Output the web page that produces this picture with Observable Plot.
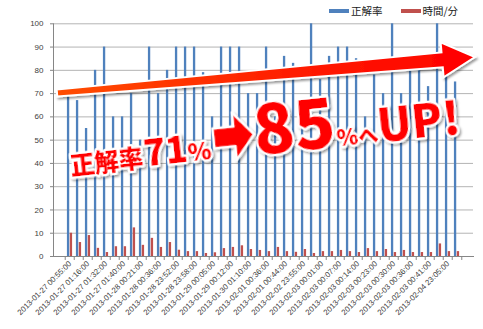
<!DOCTYPE html>
<html><head><meta charset="utf-8">
<script src="https://cdn.jsdelivr.net/npm/d3@7"></script>
<script src="https://cdn.jsdelivr.net/npm/@observablehq/plot@0.6"></script>
<style>
html,body{margin:0;padding:0;background:#fff;}
#wrap{position:relative;width:483px;height:329px;overflow:hidden;background:#fff;}
#legend{position:absolute;left:329px;top:4px;font-family:"Noto Sans CJK JP",sans-serif;font-size:10.5px;color:#1a1a1a;display:flex;align-items:center;white-space:nowrap;line-height:14px;}
.sw{display:inline-block;width:20px;height:3.5px;margin-right:2px;}
</style></head><body>
<div id="wrap"><div id="legend"></div></div>
<script>
// ---- data ----
const seriesNames = ["正解率", "時間/分"];
const seriesColors = ["#4f81bd", "#c0504d"];
const sessions = d3.range(44); // session index (one per practice session)
const tickLabels = [
  "2013-01-27 00:55:00","2013-01-27 01:16:00","2013-01-27 01:32:00","2013-01-27 01:40:00",
  "2013-01-28 00:21:00","2013-01-28 00:36:00","2013-01-28 23:52:00","2013-01-28 23:58:00",
  "2013-01-29 00:05:00","2013-01-29 00:12:00","2013-01-30 01:10:00","2013-02-01 00:36:00",
  "2013-02-01 00:44:00","2013-02-02 23:55:00","2013-02-03 00:01:00","2013-02-03 00:07:00",
  "2013-02-03 00:14:00","2013-02-03 00:23:00","2013-02-03 00:30:00","2013-02-03 00:36:00",
  "2013-02-03 00:41:00","2013-02-04 23:05:00"
];
const accuracy = [70,67,55,80,90,60,60,70,50,90, 70,80,90,90,90,79,60,90,90,90,
                  70,70,90,60,86,83,60,100,76,86, 90,90,85,60,78,70,100,70,80,80,
                  73,100,80,75];
const minutes = [10,6,9,3.5,1.7,4.2,4.2,12.3,4.8,7.8, 3.9,6,2.7,2.1,2.1,1.3,1.6,3.4,3.9,4.6,
                 3,2.6,2.1,3.9,2.1,1.8,3,1.3,2.1,2.1, 2.6,2.1,1.7,3.4,2.1,3,1.7,2.6,1.7,1.7,
                 1.7,5.4,2.1,2.1];
const yTicks = [0,10,20,30,40,50,60,70,80,90,100];
// annotation (trend arrow: 71% -> 85%)
const trendFrom = 70, trendTo = 85.5;

// ---- layout ----
const W = 483, H = 329, mL = 53, mR = 10, mT = 23.3, mB = 73;
const n = sessions.length;
const bw = (W - mL - mR) / n;
const rows = sessions.map(i => ({i, acc: accuracy[i], min: minutes[i]}));
const labelIdx = sessions.filter(i => i % 2 === 0);

const plot = Plot.plot({
  width: W, height: H,
  marginLeft: mL, marginRight: mR, marginTop: mT, marginBottom: mB,
  style: {fontFamily: "'Liberation Sans', Arial, sans-serif", fontSize: "8px", background: "white", color: "#404040", overflow: "visible"},
  x: {type: "band", domain: sessions, paddingInner: 0, paddingOuter: 0},
  y: {domain: [0, 100]},
  marks: [
    Plot.gridY({ticks: yTicks.slice(1), stroke: "#b4b4b4", strokeOpacity: 1}),
    Plot.axisY({ticks: yTicks, tickSize: 3, tickPadding: 7, stroke: "#868686", fill: "#404040", fontSize: 8, label: null}),
    Plot.barY(rows, {x: "i", y: "acc", fill: seriesColors[0], insetLeft: bw*0.2, insetRight: bw*0.5}),
    Plot.barY(rows, {x: "i", y: "min", fill: seriesColors[1], insetLeft: bw*0.5, insetRight: bw*0.2}),
    Plot.frame({anchor: "left", stroke: "#868686"}),
    Plot.frame({anchor: "bottom", stroke: "#868686"}),
    Plot.ruleX(sessions, {x: d => d, y1: 0, y2: -1.7, dx: -bw/2, stroke: "#868686"}),
    Plot.ruleX([sessions[n-1]], {x: d => d, y1: 0, y2: -1.7, dx: bw/2, stroke: "#868686"}),
    Plot.axisX({ticks: labelIdx, tickFormat: i => tickLabels[i/2], tickRotate: -45, tickSize: 0, tickPadding: 6, fontSize: 7.8, fill: "#404040", label: null})
  ]
});
document.getElementById("wrap").appendChild(plot);

// legend
const lg = document.getElementById("legend");
seriesNames.forEach((s, k) => {
  const sw = document.createElement("span"); sw.className = "sw"; sw.style.background = seriesColors[k];
  const t = document.createElement("span"); t.textContent = s; t.style.marginRight = k === 0 ? "18px" : "0";
  lg.appendChild(sw); lg.appendChild(t);
});

// ---- overlay annotation ----
const px = i => mL + bw * i;
const py = v => mT + (1 - v / 100) * (H - mT - mB);
const svg = d3.select(plot);
const defs = svg.append("defs");
const x0 = px(0) + 4, y0 = py(trendFrom);
const xt = px(n) + 2, yt = py(trendTo);
const gr = defs.append("linearGradient").attr("id", "ag").attr("gradientUnits", "userSpaceOnUse")
  .attr("x1", x0).attr("x2", xt).attr("y1", 0).attr("y2", 0);
gr.append("stop").attr("offset", 0).attr("stop-color", "#ff4d00");
gr.append("stop").attr("offset", 0.6).attr("stop-color", "#ff1a00");
gr.append("stop").attr("offset", 1).attr("stop-color", "#ff0000");
const f = defs.append("filter").attr("id", "sh").attr("x", "-20%").attr("y", "-20%").attr("width", "140%").attr("height", "140%");
f.append("feDropShadow").attr("dx", 1.5).attr("dy", 2).attr("stdDeviation", 1.3).attr("flood-color", "#000").attr("flood-opacity", 0.4);

const dx = xt - x0, dy = yt - y0, L = Math.hypot(dx, dy);
const ux = dx / L, uy = dy / L, nx = -uy, ny = ux;
const headLen = 33, hw = 17.5, t0 = 7, tb = 15;
const bxp = xt - ux * headLen, byp = yt - uy * headLen;
const P = (x, y) => [x, y];
const pts = [
  P(x0 + nx*t0/2, y0 + ny*t0/2), P(bxp + nx*tb/2, byp + ny*tb/2), P(bxp + nx*hw, byp + ny*hw),
  P(xt, yt), P(bxp - nx*hw, byp - ny*hw), P(bxp - nx*tb/2, byp - ny*tb/2), P(x0 - nx*t0/2, y0 - ny*t0/2)
];
svg.append("polygon").attr("points", pts.map(p => p.join(",")).join(" "))
  .attr("fill", "url(#ag)").attr("stroke", "#fff").attr("stroke-width", 2).attr("stroke-linejoin", "miter")
  .attr("filter", "url(#sh)");

const txtStyle = sel => sel.attr("font-family", "'Noto Sans CJK JP', sans-serif").attr("font-weight", 900)
  .attr("text-anchor", "start")
  .attr("fill", "#ff0000").attr("stroke", "#fff").attr("stroke-width", 4.5).attr("stroke-linejoin", "round")
  .attr("paint-order", "stroke").attr("filter", "url(#sh)");

const l1x = px(1.9), l1y = py(35);
const t1 = svg.append("text").attr("x", l1x).attr("y", l1y).attr("transform", `rotate(-6.5 ${l1x} ${l1y})`).call(txtStyle);
t1.append("tspan").attr("font-size", 24.5).text("正解率");
t1.append("tspan").attr("font-size", 36).attr("dx", 1).text("71");
t1.append("tspan").attr("font-size", 24).text("%");

// small block arrow
const ax = px(16.8), ay = py(50.5);
svg.append("polygon").attr("points", "0,-10 21,-10 21,-24 41,0 21,24 21,10 0,10")
  .attr("transform", `translate(${ax},${ay}) rotate(-6)`)
  .attr("fill", "#ff0000").attr("stroke", "#fff").attr("stroke-width", 2.5).attr("stroke-linejoin", "round")
  .attr("filter", "url(#sh)");

const l2x = px(21.3), l2y = py(43.3);
const t2 = svg.append("text").attr("x", l2x).attr("y", l2y).attr("transform", `rotate(-6 ${l2x} ${l2y})`).call(txtStyle);
t2.append("tspan").attr("font-size", 67).text("85");
t2.append("tspan").attr("font-size", 22).text("%");
t2.append("tspan").attr("font-size", 20).text("へ");
t2.append("tspan").attr("font-size", 45).text("UP!");
</script>
</body></html>
